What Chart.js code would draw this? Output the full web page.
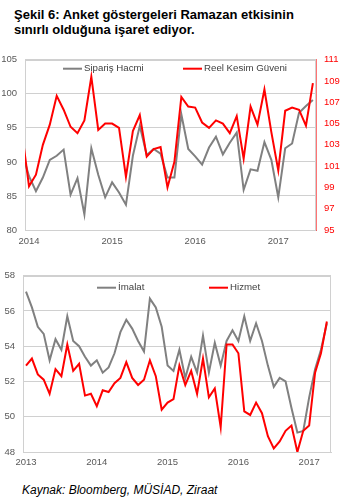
<!DOCTYPE html>
<html lang="tr">
<head>
<meta charset="utf-8">
<title>Şekil 6</title>
<script src="https://cdn.jsdelivr.net/npm/chart.js@4.4.1/dist/chart.umd.min.js"></script>
<style>
  body { margin: 0; background: #fff; font-family: "Liberation Sans", Arial, sans-serif; }
  #page { position: relative; width: 341px; height: 504px; overflow: hidden; }
  .title { position: absolute; left: 14px; font-weight: bold; font-size: 13px; line-height: 15px; color: #000; white-space: nowrap; }
  canvas { position: absolute; left: 0; }
  #source { position: absolute; left: 22px; top: 483px; font-style: italic; font-size: 12px; color: #000; white-space: nowrap; }
</style>
</head>
<body>
<div id="page">
  <div class="title" style="top:7px">Şekil 6: Anket göstergeleri Ramazan etkisinin</div>
  <div class="title" style="top:22px">sınırlı olduğuna işaret ediyor.</div>
  <canvas id="anketChart" width="341" height="205" style="top:46px"></canvas>
  <canvas id="pmiChart" width="341" height="215" style="top:262px"></canvas>
  <div id="source">Kaynak: Bloomberg, MÜSİAD, Ziraat</div>
</div>
<script>
// Upper chart: monthly, Dec 2013 - Jun 2017
const topYears = ['2014', '2015', '2016', '2017'];
const topFirstMonth = -1; // Dec 2013, Jan 2014 = 0
const siparisHacmi = [
  91.4,
  87.9, 85.7, 87.7, 90.3, 90.9, 91.8, 85.2, 87.6, 82.3, 92.0, 88.1, 84.8,
  87.0, 85.5, 83.7, 90.9, 95.3, 91.0, 91.9, 91.2, 87.7, 87.7, 97.0, 91.9,
  90.8, 89.6, 92.1, 93.7, 91.1, 92.8, 94.3, 85.9, 88.9, 88.7, 92.9, 90.3,
  84.8, 92.0, 92.7, 97.2, 98.2, 99.1
];
const reelKesimGuveni = [
  104.1,
  99.1, 100.2, 103.0, 104.9, 107.6, 106.3, 104.7, 104.1, 105.3, 109.4, 104.4, 105.0,
  105.0, 104.6, 100.0, 104.3, 105.8, 101.9, 102.6, 102.8, 99.0, 101.4, 107.5, 106.6,
  106.5, 105.1, 104.6, 105.3, 105.0, 104.1, 105.7, 101.7, 106.6, 104.9, 108.2, 104.2,
  100.6, 106.2, 106.5, 106.3, 104.8, 108.8
];

// Lower chart: monthly, Jan 2013 - Apr 2017
const bottomYears = ['2013', '2014', '2015', '2016', '2017'];
const bottomFirstMonth = 0; // Jan 2013
const imalat = [
  57.1, 56.2, 55.1, 54.7, 53.2, 54.4, 53.8, 55.7, 54.3, 54.0, 53.4, 52.9,
  53.2, 52.5, 52.8, 53.6, 54.8, 55.5, 55.0, 54.3, 53.7, 56.7, 56.2, 55.1,
  52.9, 52.6, 53.8, 52.2, 53.4, 52.5, 54.6, 52.5, 54.2, 52.9, 54.3, 54.9,
  54.3, 55.7, 54.3, 55.3, 54.3, 52.9, 51.7, 52.2, 52.0, 50.5, 49.1, 49.2,
  51.1, 52.7, 53.8, 55.3
];
const hizmet = [
  52.9, 53.3, 52.4, 52.1, 51.3, 52.7, 52.3, 54.1, 52.6, 53.0, 51.2, 51.3,
  50.6, 51.5, 51.4, 51.9, 52.2, 53.1, 52.2, 51.8, 52.1, 53.2, 52.3, 50.4,
  50.8, 51.0, 52.9, 51.8, 52.6, 51.3, 53.3, 51.1, 51.6, 49.4, 54.1, 54.1,
  53.6, 50.3, 50.1, 50.8, 50.2, 48.9, 48.2, 48.6, 49.2, 49.5, 48.0, 49.2,
  49.5, 52.5, 53.6, 55.4
];

const GRAY = '#808080';
const RED = '#ff0000';
const GRID = '#d0d0d0';
const TICK_COLOR = '#595959';
const FONT = '"Liberation Sans", Arial, sans-serif';

function toPoints(values, firstMonth) {
  return values.map((v, i) => ({ x: firstMonth + i, y: v }));
}

// light frame round the plot area
const framePlugin = {
  id: 'frame',
  beforeDraw(chart) {
    const { ctx, chartArea: a } = chart;
    ctx.save();
    ctx.strokeStyle = GRID;
    ctx.lineWidth = 1;
    ctx.strokeRect(Math.round(a.left) + 0.5, Math.round(a.top) + 0.5,
      Math.round(a.right - a.left) - 1, Math.round(a.bottom - a.top));
    ctx.restore();
  }
};

// legend entries drawn inside the plot area
const innerLegend = {
  id: 'innerLegend',
  afterDraw(chart, args, opts) {
    const { ctx, chartArea: a } = chart;
    ctx.save();
    ctx.font = '9.7px ' + FONT;
    ctx.textBaseline = 'middle';
    ctx.fillStyle = '#404040';
    opts.items.forEach(it => {
      const y = a.top + opts.y;
      ctx.strokeStyle = it.color;
      ctx.lineWidth = 2;
      ctx.beginPath();
      ctx.moveTo(a.left + it.x, y);
      ctx.lineTo(a.left + it.x + 19, y);
      ctx.stroke();
      ctx.fillText(it.text, a.left + it.x + 21, y);
    });
    ctx.restore();
  }
};

function xScale(min, max, years, firstYearMonth, height, pad) {
  return {
    type: 'linear',
    min: min,
    max: max,
    grid: { display: false, drawTicks: false },
    border: { color: GRID },
    afterBuildTicks: axis => {
      axis.ticks = years.map((y, i) => ({ value: firstYearMonth + i * 12 }));
    },
    afterFit: axis => { axis.height = height; },
    ticks: {
      autoSkip: false,
      maxRotation: 0,
      padding: pad,
      color: TICK_COLOR,
      font: { family: FONT, size: 9.5 },
      callback: value => years[Math.round((value - firstYearMonth) / 12)]
    }
  };
}

function yScale(min, max, step, width, pos, color, grid) {
  return {
    position: pos,
    min: min,
    max: max,
    grid: { display: grid, color: GRID, drawTicks: false },
    border: { display: true, color: pos === 'right' ? 'rgba(255,0,0,0.55)' : GRID },
    afterFit: axis => { axis.width = width; },
    ticks: {
      stepSize: step,
      padding: 8,
      color: color,
      font: { family: FONT, size: 9.5 }
    }
  };
}

function lineSet(label, values, first, color, axis, order) {
  return {
    label: label,
    data: toPoints(values, first),
    borderColor: color,
    backgroundColor: color,
    borderWidth: 2,
    pointRadius: 0,
    tension: 0,
    yAxisID: axis,
    order: order
  };
}

new Chart(document.getElementById('anketChart'), {
  type: 'line',
  data: {
    datasets: [
      lineSet('Sipariş Hacmi', siparisHacmi, topFirstMonth, GRAY, 'y', 2),
      lineSet('Reel Kesim Güveni', reelKesimGuveni, topFirstMonth, RED, 'y1', 1)
    ]
  },
  options: {
    responsive: false,
    animation: false,
    devicePixelRatio: 1,
    layout: { padding: { top: 10, left: 0, right: 0, bottom: 0 } },
    scales: {
      x: xScale(-0.58, 41.45, topYears, 0, 21, 6),
      y: yScale(80, 105, 5, 25, 'left', TICK_COLOR, true),
      y1: yScale(95, 111, 2, 25, 'right', RED, false)
    },
    plugins: {
      legend: { display: false },
      tooltip: { enabled: false },
      innerLegend: {
        y: 9,
        items: [
          { text: 'Sipariş Hacmi', color: GRAY, x: 38 },
          { text: 'Reel Kesim Güveni', color: RED, x: 158 }
        ]
      }
    }
  },
  plugins: [framePlugin, innerLegend]
});

new Chart(document.getElementById('pmiChart'), {
  type: 'line',
  data: {
    datasets: [
      lineSet('İmalat', imalat, bottomFirstMonth, GRAY, 'y', 2),
      lineSet('Hizmet', hizmet, bottomFirstMonth, RED, 'y', 1)
    ]
  },
  options: {
    responsive: false,
    animation: false,
    devicePixelRatio: 1,
    layout: { padding: { top: 13, left: 0, right: 10, bottom: 0 } },
    scales: {
      x: xScale(-0.51, 51.7, bottomYears, 0, 25, 5),
      y: yScale(48, 58, 2, 23, 'left', TICK_COLOR, true)
    },
    plugins: {
      legend: { display: false },
      tooltip: { enabled: false },
      innerLegend: {
        y: 12,
        items: [
          { text: 'İmalat', color: GRAY, x: 74 },
          { text: 'Hizmet', color: RED, x: 186 }
        ]
      }
    }
  },
  plugins: [framePlugin, innerLegend]
});
</script>
</body>
</html>
